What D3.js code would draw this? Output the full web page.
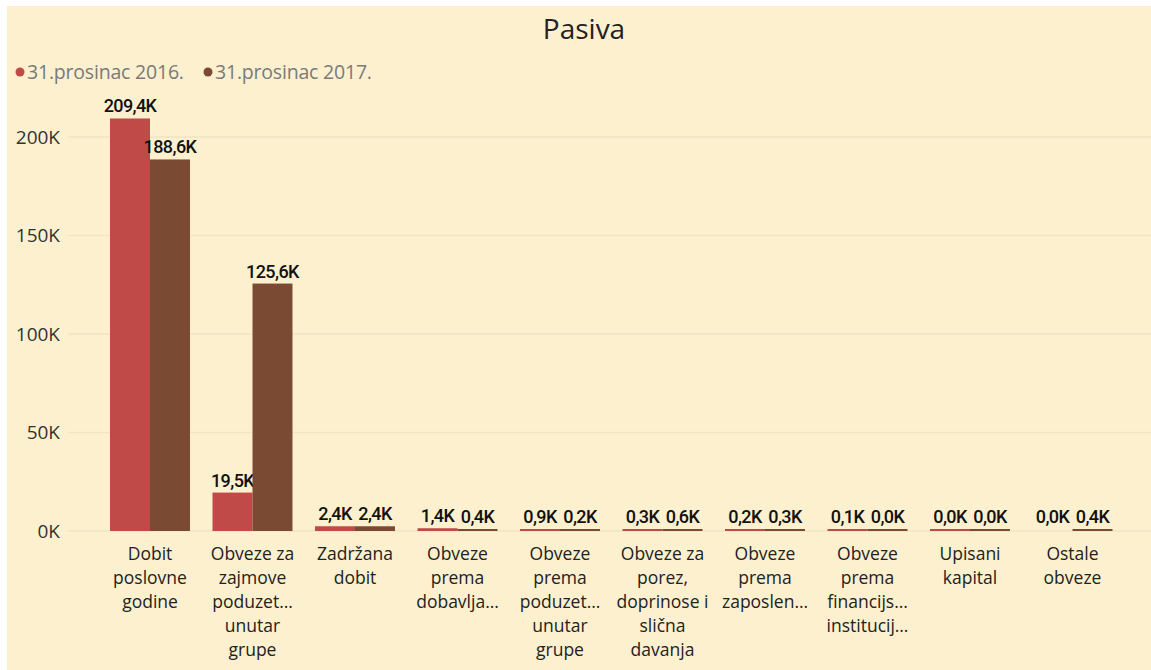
<!DOCTYPE html>
<html><head><meta charset="utf-8">
<script src="https://cdn.jsdelivr.net/npm/d3@7"></script>
<style>
html,body{margin:0;padding:0;background:#fff;}
svg{display:block;}
</style></head>
<body>
<script>
const categories = ["Dobit poslovne godine","Obveze za zajmove poduzetnicima unutar grupe","Zadržana dobit","Obveze prema dobavljačima","Obveze prema poduzetnicima unutar grupe","Obveze za porez, doprinose i slična davanja","Obveze prema zaposlenicima","Obveze prema financijskim institucijama","Upisani kapital","Ostale obveze"];
const categoryLines = [
 ["Dobit","poslovne","godine"],
 ["Obveze za","zajmove","poduzet…","unutar","grupe"],
 ["Zadržana","dobit"],
 ["Obveze","prema","dobavlja…"],
 ["Obveze","prema","poduzet…","unutar","grupe"],
 ["Obveze za","porez,","doprinose i","slična","davanja"],
 ["Obveze","prema","zaposlen…"],
 ["Obveze","prema","financijs…","institucij…"],
 ["Upisani","kapital"],
 ["Ostale","obveze"]
];
const seriesNames = ["31.prosinac 2016.","31.prosinac 2017."];
const values2016 = [209.4,19.5,2.4,1.4,0.9,0.3,0.2,0.1,0.02,0];
const values2017 = [188.6,125.6,2.4,0.4,0.2,0.6,0.3,0.04,0.02,0.4];
const yTicks = [0,50,100,150,200];
const colors = ["#BF4A48","#7B4A33"];

const W=1151,H=670;
const svg=d3.select("body").append("svg").attr("width",W).attr("height",H);
svg.append("rect").attr("x",7).attr("y",6).attr("width",W-7).attr("height",H-6).attr("fill","#FCF0CF");

svg.append("text").attr("x",584).attr("y",39).attr("text-anchor","middle")
 .attr("font-family","Open Sans, sans-serif").attr("font-size",28).attr("fill","#222").text("Pasiva");

// legend
const legX=[20,208];
seriesNames.forEach((s,i)=>{
  svg.append("circle").attr("cx",legX[i]).attr("cy",72).attr("r",4.5).attr("fill",colors[i]);
  svg.append("text").attr("x",legX[i]+7).attr("y",79).attr("font-family","Open Sans, sans-serif")
   .attr("font-size",19.5).attr("letter-spacing",-0.2).attr("fill","#7a7a7a").text(s);
});

const y=d3.scaleLinear().domain([0,200]).range([531,137]);
const x=d3.scaleBand().domain(categories).range([98.75,1123.75]).paddingInner(0.22).paddingOuter(0.11);
const xs=d3.scaleBand().domain([0,1]).range([0,x.bandwidth()]);

// grid
const g=svg.append("g");
g.selectAll("line.grid").data(yTicks).join("line").attr("class","grid")
 .attr("x1",68).attr("x2",W).attr("y1",d=>y(d)).attr("y2",d=>y(d))
 .attr("stroke","#F2E5C6").attr("stroke-width",1.5);

const yAxis=d3.axisLeft(y).tickValues(yTicks).tickSize(0).tickPadding(0).tickFormat(d=>d+"K");
const ya=svg.append("g").attr("transform","translate(60,0)").call(yAxis);
ya.select(".domain").remove();
ya.selectAll("text").attr("font-family","Open Sans, sans-serif").attr("font-size",19).attr("fill","#333");

const data=[values2016,values2017];
const fmt=v=>v.toFixed(1).replace(".",",")+"K";
data.forEach((vals,si)=>{
  const grp=svg.append("g");
  grp.selectAll("rect").data(vals.map((v,i)=>({v,c:categories[i]}))).join("rect")
   .attr("x",d=>x(d.c)+xs(si)).attr("width",xs.bandwidth())
   .attr("y",d=>d.v>0?Math.min(y(d.v),y(0)-2):y(0))
   .attr("height",d=>d.v>0?Math.max(y(0)-y(d.v),2):0)
   .attr("fill",colors[si]);
  grp.selectAll("text").data(vals.map((v,i)=>({v,c:categories[i]}))).join("text")
   .attr("x",d=>x(d.c)+xs(si)+xs.bandwidth()/2)
   .attr("y",d=>Math.min(y(d.v),y(0)-2)-6)
   .attr("text-anchor","middle").attr("font-family","Roboto, sans-serif").attr("font-weight",500)
   .attr("font-size",18).attr("fill","#111").attr("letter-spacing",-0.6).text(d=>fmt(d.v));
});

// category labels
const xa=svg.append("g");
categories.forEach((c,i)=>{
  const t=xa.append("text").attr("x",x(c)+x.bandwidth()/2).attr("y",560)
   .attr("text-anchor","middle").attr("font-family","Open Sans, sans-serif").attr("font-size",17.5).attr("fill","#222");
  categoryLines[i].forEach((l,j)=>{
    t.append("tspan").attr("x",x(c)+x.bandwidth()/2).attr("dy",j===0?0:24).text(l);
  });
});
</script>
</body></html>
